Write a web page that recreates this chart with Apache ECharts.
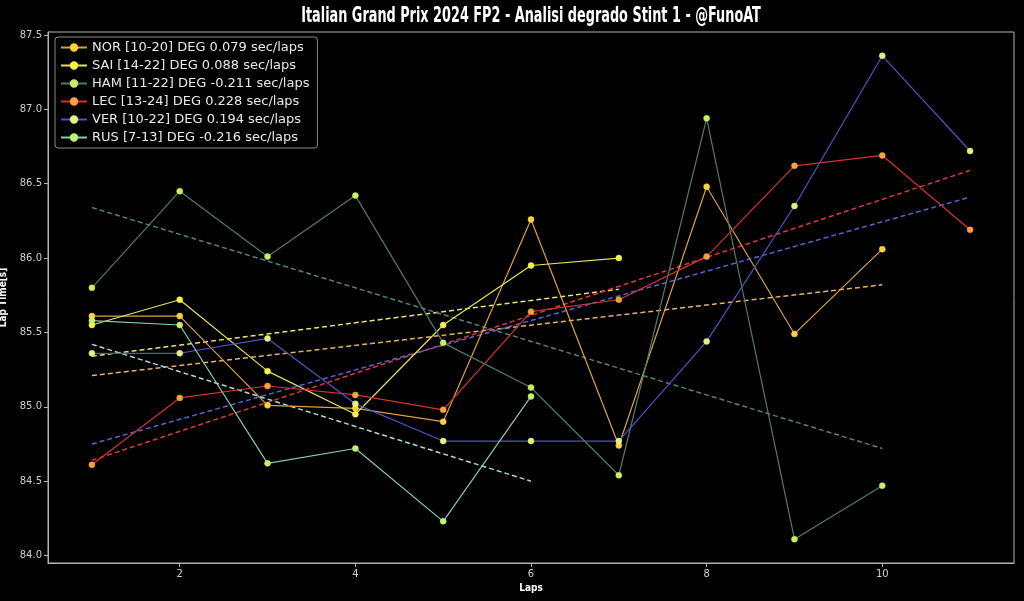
<!DOCTYPE html>
<html>
<head>
<meta charset="utf-8">
<script src="https://cdn.jsdelivr.net/npm/echarts@6/dist/echarts.min.js"></script>
<style>
html,body{margin:0;padding:0;background:#000;}
#chart{width:1024px;height:601px;}
</style>
</head>
<body>
<div id="chart"></div>
<script>
// ---- data ----
const titleText = 'Italian Grand Prix 2024 FP2 - Analisi degrado Stint 1 - @FunoAT';
const legendNames = [
  'NOR [10-20] DEG 0.079 sec/laps',
  'SAI [14-22] DEG 0.088 sec/laps',
  'HAM [11-22] DEG -0.211 sec/laps',
  'LEC [13-24] DEG 0.228 sec/laps',
  'VER [10-22] DEG 0.194 sec/laps',
  'RUS [7-13] DEG -0.216 sec/laps'
];
const NOR = [85.61, 85.61, 85.01, 84.99, 84.90, 86.26, 84.74, 86.48, 85.49, 86.06];
const SAI = [85.55, 85.72, 85.24, 84.95, 85.55, 85.95, 86.00];
const HAM = [85.80, 86.45, 86.01, 86.42, 85.43, 85.13, 84.54, 86.94, 84.11, 84.47];
const LEC = [84.61, 85.06, 85.14, 85.08, 84.98, 85.64, 85.72, 86.01, 86.62, 86.69, 86.19];
const VER = [85.36, 85.36, 85.46, 85.02, 84.77, 84.77, 84.77, 85.44, 86.35, 87.36, 86.72];
const RUS = [85.58, 85.55, 84.62, 84.72, 84.23, 85.07];
// trend line end points (first lap, last lap)
const NOR_TREND = [85.21, 85.82];
const SAI_TREND = [85.34, 85.79];
const HAM_TREND = [86.34, 84.72];
const LEC_TREND = [84.64, 86.59];
const VER_TREND = [84.75, 86.41];
const RUS_TREND = [85.42, 84.50];
const xTicks = [2, 4, 6, 8, 10];
const yTicks = [84.0, 84.5, 85.0, 85.5, 86.0, 86.5, 87.0, 87.5];

// ---- styling ----
const lineColors   = ['#dca043', '#e4e25a', '#4d7c6c', '#d4332e', '#5252c4', '#86cbb5'];
const markerColors = ['#fcd23a', '#f3f348', '#c9ee62', '#ffa03c', '#e2f07e', '#c4f072'];
const trendColors  = ['#e5b262', '#ece272', '#4f8474', '#d83a3a', '#5a62d0', '#a9dccb'];
const condensed = '"Liberation Sans Narrow", "DejaVu Sans Condensed", "DejaVu Sans", sans-serif';

const allData = [NOR, SAI, HAM, LEC, VER, RUS];
const allTrend = [NOR_TREND, SAI_TREND, HAM_TREND, LEC_TREND, VER_TREND, RUS_TREND];

const series = [];
allData.forEach((arr, i) => {
  series.push({
    name: legendNames[i] + ' trend',
    type: 'line',
    data: [[1, allTrend[i][0]], [arr.length, allTrend[i][1]]],
    symbol: 'none',
    silent: true,
    z: 1,
    lineStyle: { color: trendColors[i], width: 1.5, type: [5, 3] }
  });
});
allData.forEach((arr, i) => {
  series.push({
    name: legendNames[i],
    type: 'line',
    data: arr.map((v, k) => [k + 1, v]),
    symbol: 'circle',
    symbolSize: 6,
    z: 3,
    itemStyle: { color: markerColors[i], borderColor: markerColors[i], borderWidth: 0.5 },
    lineStyle: { color: lineColors[i], width: 1.2 }
  });
});

const chart = echarts.init(document.getElementById('chart'));
chart.setOption({
  animation: false,
  backgroundColor: '#000',
  graphic: [{
    type: 'text',
    x: 531, y: 17,
    scaleX: 0.68,
    style: {
      text: titleText, fill: '#fff',
      font: 'bold 21px ' + condensed,
      align: 'center', verticalAlign: 'middle'
    }
  }],
  legend: {
    data: legendNames,
    orient: 'vertical',
    left: 55, top: 37,
    padding: [3, 8, 3, 5],
    itemGap: 3,
    itemWidth: 26, itemHeight: 8,
    borderColor: '#8a8a8a', borderWidth: 1, borderRadius: 3,
    backgroundColor: 'rgba(0,0,0,0.85)',
    textStyle: { color: '#e8e8e8', fontSize: 13, fontFamily: 'DejaVu Sans', lineHeight: 15 },
    selectedMode: false
  },
  grid: {
    left: 48, right: 10, top: 32, bottom: 38,
    show: true, borderColor: '#b4b4b4', borderWidth: 1, backgroundColor: '#000',
    containLabel: false,
    outerBoundsMode: 'none'
  },
  xAxis: {
    type: 'value', min: 0.5, max: 11.5,
    name: 'Laps', nameLocation: 'middle', nameGap: 20,
    nameTextStyle: { color: '#fff', fontSize: 10, fontWeight: 'bold', fontFamily: condensed },
    axisLine: { show: true, lineStyle: { color: '#b4b4b4' } },
    axisTick: { show: true, length: 4, lineStyle: { color: '#b4b4b4' }, customValues: xTicks },
    axisLabel: { color: '#cfcfcf', fontSize: 10, fontFamily: 'DejaVu Sans', margin: 6, customValues: xTicks },
    splitLine: { show: false }
  },
  yAxis: {
    type: 'value', min: 83.95, max: 87.52,
    name: 'Lap Time[s]', nameLocation: 'middle', nameGap: 34,
    nameTextStyle: { color: '#fff', fontSize: 10, fontWeight: 'bold', fontFamily: condensed },
    axisLine: { show: true, lineStyle: { color: '#b4b4b4' } },
    axisTick: { show: true, length: 4, lineStyle: { color: '#b4b4b4' }, customValues: yTicks },
    axisLabel: { color: '#cfcfcf', fontSize: 10, fontFamily: 'DejaVu Sans', margin: 6, customValues: yTicks,
      formatter: v => v.toFixed(1) },
    splitLine: { show: false }
  },
  series: series
});
</script>
</body>
</html>
